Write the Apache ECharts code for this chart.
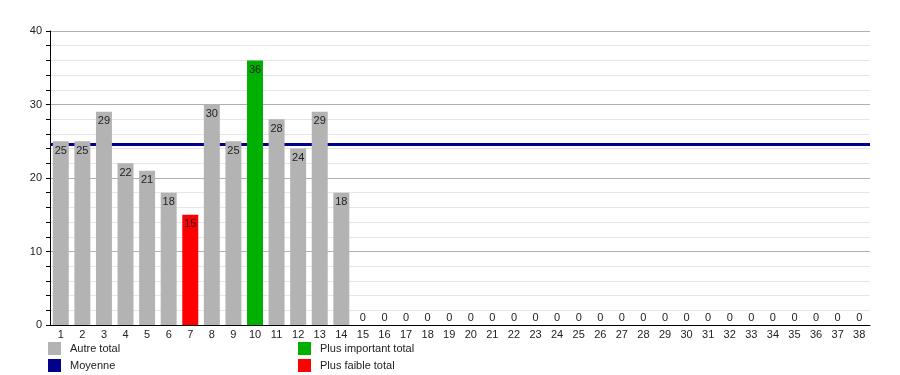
<!DOCTYPE html>
<html>
<head>
<meta charset="utf-8">
<script src="https://cdn.jsdelivr.net/npm/echarts@6/dist/echarts.min.js"></script>
<style>
html,body{margin:0;padding:0;background:#fff;}
#chart{width:900px;height:375px;}
</style>
</head>
<body>
<div id="chart"></div>
<script>
var categories = ['1','2','3','4','5','6','7','8','9','10','11','12','13','14','15','16','17','18','19','20','21','22','23','24','25','26','27','28','29','30','31','32','33','34','35','36','37','38'];
var autreTotal = [25,25,29,22,21,18,'-',30,25,'-',28,24,29,18,0,0,0,0,0,0,0,0,0,0,0,0,0,0,0,0,0,0,0,0,0,0,0,0];
var plusImportant = ['-','-','-','-','-','-','-','-','-',36,'-','-','-','-','-','-','-','-','-','-','-','-','-','-','-','-','-','-','-','-','-','-','-','-','-','-','-','-'];
var plusFaible = ['-','-','-','-','-','-',15,'-','-','-','-','-','-','-','-','-','-','-','-','-','-','-','-','-','-','-','-','-','-','-','-','-','-','-','-','-','-','-'];
var moyenne = 24.64;
var yTicks = [0,10,20,30,40];

var FONT = 'Liberation Sans, Arial, sans-serif';

function withLabels(arr){
  return arr.map(function(v){
    if (v === 0) return {value:0, label:{position:'top', distance:2}};
    return v;
  });
}

var labelCfg = {show:true, position:'insideTop', distance:4, color:'#222', fontSize:11, fontFamily:FONT};

var chart = echarts.init(document.getElementById('chart'), null, {renderer:'canvas'});
chart.setOption({
  animation:false,
  backgroundColor:'#fff',
  textStyle:{fontFamily:FONT},
  grid:{left:50, right:30, top:31, bottom:50, containLabel:false},
  legend:[
    {data:['Autre total','Moyenne'], orient:'vertical', left:48, top:342, padding:0,
     itemWidth:13, itemHeight:13, itemGap:4, icon:'rect',
     textStyle:{fontSize:11, color:'#222', fontFamily:FONT, padding:[0,0,0,4]}},
    {data:['Plus important total','Plus faible total'], orient:'vertical', left:298, top:342, padding:0,
     itemWidth:13, itemHeight:13, itemGap:4, icon:'rect',
     textStyle:{fontSize:11, color:'#222', fontFamily:FONT, padding:[0,0,0,4]}}
  ],
  xAxis:{
    type:'category', data:categories,
    axisLine:{show:true, lineStyle:{color:'#000', width:1}},
    axisTick:{show:false},
    axisLabel:{color:'#222', fontSize:11, fontFamily:FONT, margin:4, interval:0},
    splitLine:{show:false}
  },
  yAxis:{
    type:'value', min:yTicks[0], max:yTicks[yTicks.length-1], interval:10,
    axisLine:{show:true, lineStyle:{color:'#000', width:1}},
    axisTick:{show:true, length:4, lineStyle:{color:'#000'}},
    minorTick:{show:true, splitNumber:5, length:4, lineStyle:{color:'#000'}},
    axisLabel:{color:'#222', fontSize:11, fontFamily:FONT, margin:8},
    splitLine:{show:true, lineStyle:{color:'#b0b0b0', width:1}},
    minorSplitLine:{show:true, lineStyle:{color:'#e6e6e6', width:1}}
  },
  series:[
    {name:'Moyenne', type:'line', data:[], z:1, color:'#00008b',
     itemStyle:{color:'#00008b'},
     markLine:{silent:true, z:1, symbol:'none', label:{show:false},
       lineStyle:{color:'#00008b', width:3, type:'solid'},
       data:[{yAxis:moyenne}]}},
    {name:'Autre total', type:'bar', stack:'t', data:withLabels(autreTotal), barWidth:'74%', z:10, zlevel:1,
     itemStyle:{color:'#b3b3b3'}, label:labelCfg},
    {name:'Plus important total', type:'bar', stack:'t', data:plusImportant, barWidth:'74%', z:10, zlevel:1,
     itemStyle:{color:'#00b000'}, label:labelCfg},
    {name:'Plus faible total', type:'bar', stack:'t', data:plusFaible, barWidth:'74%', z:10, zlevel:1,
     itemStyle:{color:'#ff0000'}, label:labelCfg}
  ]
});
</script>
</body>
</html>
